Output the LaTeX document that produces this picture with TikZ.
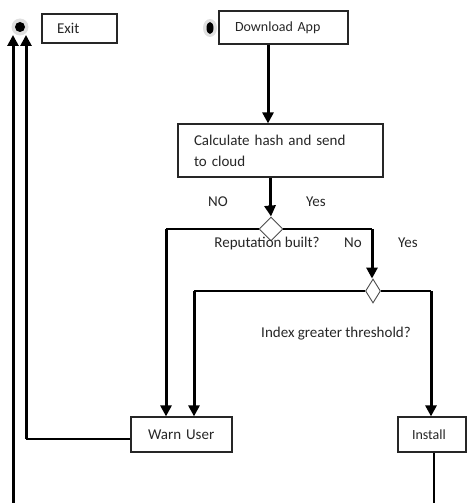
\documentclass[tikz,border=0pt]{standalone}
\usepackage{fontspec}
\setmainfont{Carlito}
\usetikzlibrary{arrows.meta,shapes.geometric}
\begin{document}
\begin{tikzpicture}[x=1pt,y=-1pt,
  every node/.style={font=\fontsize{15}{21}\selectfont, text=black!85},
  box/.style={draw=black!85, line width=1.2pt, rectangle, align=left, inner ysep=0pt, minimum height=34pt},
  dia/.style={draw=black!70, line width=0.9pt, diamond, inner sep=0pt, minimum width=#1, minimum height=24pt},
  thin/.style={line width=1.2pt, draw=black},
  thick/.style={line width=3pt, draw=black},
  arr/.style={-{Triangle[width=11pt,length=11pt]}},
  lbl/.style={inner sep=0pt}
]
\useasboundingbox (0,0) rectangle (467,503);
% start / end dots
\fill[black!12] (20,27) circle (8.5);
\fill[black] (20,27) circle (5);
\fill[black!12] (210,28) ellipse (7 and 9);
\fill[black] (210,28) ellipse (3.5 and 6);
\coordinate (exitdotA) at (13,35);
\coordinate (exitdotB) at (26,35);
% boxes
\node[box, minimum height=29pt, inner xsep=15pt, text width=45pt] (exit) at (79.5,28.5) {Exit};
\node[box, minimum height=33pt, inner xsep=16pt, text width=97pt, font=\fontsize{14}{21}\selectfont] (dl) at (283.5,27.5) {Download App};
\node[box, minimum height=53pt, inner xsep=16pt, text width=173pt] (calc) at (280.5,150.5) {Calculate hash and send\\to cloud};
\node[box, minimum height=35pt, inner xsep=17pt, text width=67pt] (warn) at (181.5,434.5) {Warn User};
\node[box, minimum height=35pt, inner xsep=14pt, text width=40pt, font=\fontsize{14}{21}\selectfont] (inst) at (432,434.5) {Install};
% diamonds
\node[dia=24pt] (d1) at (271,229) {};
\node[dia=15pt] (d2) at (373,291) {};
% labels
\node[lbl] (no1) at (218,202) {NO};
\node[lbl] (yes1) at (316,202) {Yes};
\node[lbl] (rep) at (267,243) {Reputation built?};
\node[lbl] (no2) at (353,243) {No};
\node[lbl] (yes2) at (408,243) {Yes};
\node[lbl] (idx) at (336,334) {Index greater threshold?};
% corners
\coordinate (c1) at (166,229);
\coordinate (c2) at (372,229);
\coordinate (c3) at (194,291);
\coordinate (c4) at (431,291);
\coordinate (c5) at (26,439);
\coordinate (bot1) at (13,503);
\coordinate (bot2) at (434,503);
% connectors
\draw[thick,arr] (dl.south -| 268,0) -- (calc.north -| 268,0);
\draw[thick] (calc.south -| 270,0) -- (270,212);
\draw[thick,arr] (270,205) -- (d1.north);
\draw[thin] (d1.west) -- (c1);
\draw[thick,arr] (c1) -- (warn.north -| c1);
\draw[thin] (d1.east) -- (c2);
\draw[thick,arr] (c2) -- (d2.north -| c2);
\draw[thin] (d2.west) -- (c3);
\draw[thick,arr] (c3) -- (warn.north -| c3);
\draw[thin] (d2.east) -- (c4);
\draw[thick,arr] (c4) -- (inst.north -| c4);
\draw[thin] (warn.west |- c5) -- (c5);
\draw[thick,arr] (c5) -- (exitdotB);
\draw[thick,arr] (bot1) -- (exitdotA);
\draw[thin] (inst.south -| bot2) -- (bot2);
\end{tikzpicture}
\end{document}
